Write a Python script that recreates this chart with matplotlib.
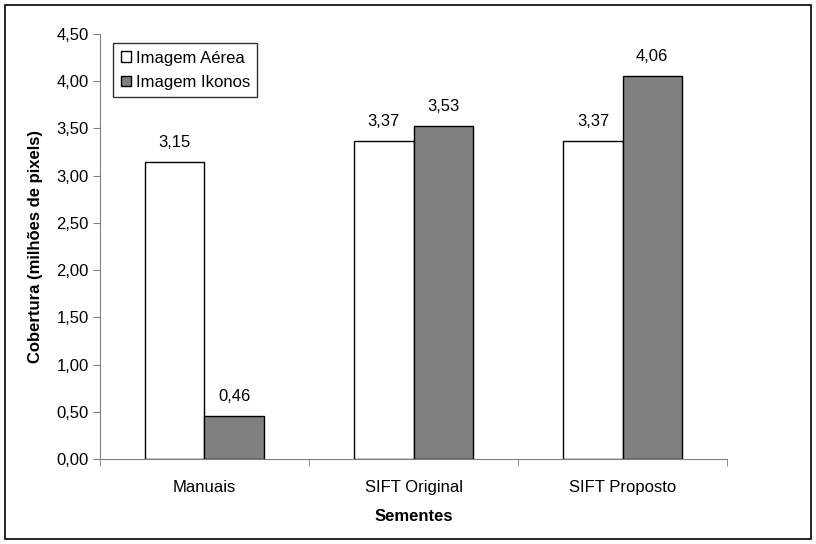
import matplotlib.pyplot as plt
import numpy as np
from matplotlib.patches import Rectangle

categories = ["Manuais", "SIFT Original", "SIFT Proposto"]
aerea = [3.15, 3.37, 3.37]
ikonos = [0.46, 3.53, 4.06]
series_names = ["Imagem Aérea", "Imagem Ikonos"]

plt.rcParams["font.family"] = ["Liberation Sans", "DejaVu Sans"]
fs = 12

fig = plt.figure(figsize=(8.16, 5.44), dpi=100)
ax = fig.add_axes([0.1225, 0.1562, 0.7685, 0.7813])

# outer frame of the chart
fig.patches.append(Rectangle((0.006, 0.01), 0.988, 0.98, transform=fig.transFigure,
                             fill=False, edgecolor="black", linewidth=1.2))

x = np.arange(len(categories))
w = 0.283
b1 = ax.bar(x - w / 2, aerea, w, color="white", edgecolor="black", linewidth=1, label=series_names[0])
b2 = ax.bar(x + w / 2, ikonos, w, color="#808080", edgecolor="black", linewidth=1, label=series_names[1])

for bars, vals in [(b1, aerea), (b2, ikonos)]:
    for bar, v in zip(bars, vals):
        ax.text(bar.get_x() + bar.get_width() / 2, v + 0.12, f"{v:.2f}".replace(".", ","),
                ha="center", va="bottom", fontsize=fs)

ax.set_xlim(-0.5, 2.5)
ax.set_ylim(0, 4.5)
ax.set_yticks(np.arange(0, 4.51, 0.5))
ax.set_yticklabels([f"{v:.2f}".replace(".", ",") for v in np.arange(0, 4.51, 0.5)], fontsize=fs)
ax.set_xticks(x)
ax.set_xticklabels(categories, fontsize=fs)
ax.set_xticks([-0.5, 0.5, 1.5, 2.5], minor=True)
ax.tick_params(axis="x", which="major", length=0, pad=15)
ax.tick_params(axis="x", which="minor", length=5, color="#808080")
ax.tick_params(axis="y", length=5, color="#808080", pad=3)

for s in ["top", "right"]:
    ax.spines[s].set_visible(False)
for s in ["left", "bottom"]:
    ax.spines[s].set_color("#808080")

ax.set_xlabel("Sementes", fontsize=fs, fontweight="bold", labelpad=10)
ax.set_ylabel("Cobertura (milhões de pixels)", fontsize=fs, fontweight="bold", labelpad=10)

leg = ax.legend(loc="upper left", bbox_to_anchor=(113 / 816, 1 - 43 / 544),
                bbox_transform=fig.transFigure, fontsize=fs, frameon=True, fancybox=False,
                handlelength=0.6, handleheight=0.6, handletextpad=0.3, borderpad=0.45,
                labelspacing=0.55, borderaxespad=0)
leg.get_frame().set_edgecolor("black")
leg.get_frame().set_linewidth(1)

fig.savefig("out.png", dpi=100)
